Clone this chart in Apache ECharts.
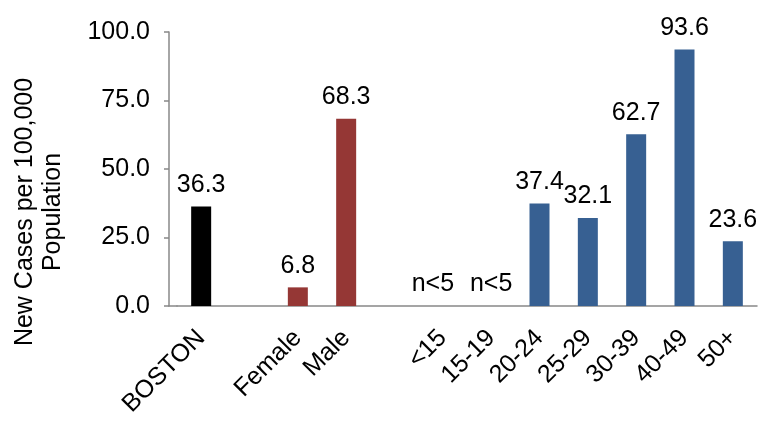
<!DOCTYPE html>
<html>
<head>
<meta charset="utf-8">
<script src="https://cdn.jsdelivr.net/npm/echarts@6/dist/echarts.min.js"></script>
<style>
html,body{margin:0;padding:0;background:#fff;}
#chart{width:758px;height:423px;}
</style>
</head>
<body>
<div id="chart"></div>
<script>
// ---- data ----
var categories = ['BOSTON', '', 'Female', 'Male', '', '<15', '15-19', '20-24', '25-29', '30-39', '40-49', '50+'];
var groups     = ['total', '', 'sex', 'sex', '', 'age', 'age', 'age', 'age', 'age', 'age', 'age'];
var values     = [36.3, null, 6.8, 68.3, null, 0, 0, 37.4, 32.1, 62.7, 93.6, 23.6];
var suppressed = [false, false, false, false, false, true, true, false, false, false, false, false];
var yTicks     = [0, 25, 50, 75, 100];
var yAxisTitle = 'New Cases per 100,000\nPopulation';

var groupColors = { total: '#000000', sex: '#953735', age: '#376092' };
var FONT = '"Liberation Sans", Arial, Helvetica, sans-serif';
var FS = 25;

var seriesData = values.map(function (v, i) {
  var item = { value: v, itemStyle: { color: groupColors[groups[i]] || '#000' } };
  if (suppressed[i]) {
    item.label = { formatter: 'n<5' };
    if (i === suppressed.indexOf(true)) item.label.offset = [-10, 0];
  }
  return item;
});

var chart = echarts.init(document.getElementById('chart'), null, { renderer: 'canvas' });
chart.setOption({
  animation: false,
  backgroundColor: '#fff',
  textStyle: { fontFamily: FONT },
  grid: [
    { left: 177, right: 1, top: 32, bottom: 117, containLabel: false, outerBoundsMode: 'none' },
    { left: 169, width: 8, top: 32, bottom: 117, containLabel: false, outerBoundsMode: 'none' }
  ],
  xAxis: [{
    type: 'category',
    gridIndex: 0,
    data: categories,
    axisLine: { show: true, lineStyle: { color: '#888888', width: 1.5 } },
    axisTick: { show: false },
    axisLabel: {
      interval: 0, rotate: 45, margin: 28,
      align: 'right', verticalAlign: 'middle',
      fontSize: FS, color: '#000', fontFamily: FONT
    },
    splitLine: { show: false }
  }, {
    type: 'category',
    gridIndex: 1,
    data: [''],
    axisLine: { show: true, lineStyle: { color: '#888888', width: 1.5 } },
    axisTick: { show: false },
    axisLabel: { show: false }
  }],
  yAxis: [{
    type: 'value',
    gridIndex: 0,
    min: yTicks[0], max: yTicks[yTicks.length - 1], interval: 25,
    offset: 8,
    name: yAxisTitle,
    nameLocation: 'middle',
    nameRotate: 90,
    nameGap: 102,
    nameTextStyle: { fontSize: FS, color: '#000', fontFamily: FONT, lineHeight: 28, padding: [0, 86, 0, 0] },
    axisLine: { show: true, lineStyle: { color: '#888888', width: 1.5 } },
    axisTick: { show: true, length: 5, lineStyle: { color: '#888888', width: 1.5 } },
    axisLabel: {
      margin: 19, fontSize: FS, color: '#000', fontFamily: FONT,
      formatter: function (v) { return v.toFixed(1); }
    },
    splitLine: { show: false }
  }, {
    type: 'value', gridIndex: 1, show: false, min: 0, max: 100
  }],
  series: [{
    type: 'bar',
    xAxisIndex: 0, yAxisIndex: 0,
    barWidth: 20,
    data: seriesData,
    label: {
      show: true, position: 'top', distance: 9,
      fontSize: FS, color: '#000', fontFamily: FONT,
      formatter: function (p) { return p.value == null ? '' : Number(p.value).toFixed(1); }
    }
  }]
});
</script>
</body>
</html>
